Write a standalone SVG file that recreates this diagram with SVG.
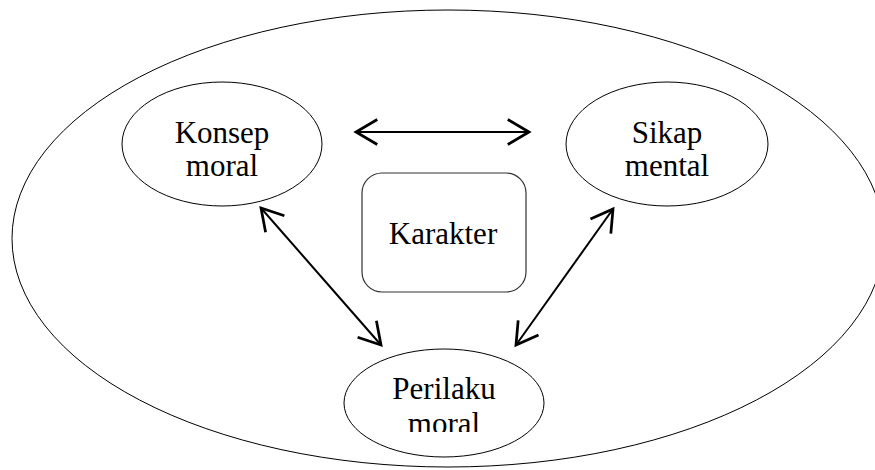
<svg xmlns="http://www.w3.org/2000/svg" width="875" height="470" viewBox="0 0 875 470">
<style>
.node{fill:#fff;stroke:#000;stroke-width:1}
.box{fill:#fff;stroke:#333;stroke-width:1.2}
.lbl{font-family:"Liberation Serif","Times New Roman",serif;font-size:31px;fill:#000;text-anchor:middle}
.conn{stroke:#000;stroke-width:2;fill:none;marker-start:url(#ah);marker-end:url(#ah)}
</style>
<defs>
<marker id="ah" markerUnits="userSpaceOnUse" markerWidth="30" markerHeight="30" viewBox="-20 -12 22 24" refX="0" refY="0" orient="auto-start-reverse" overflow="visible">
<path d="M-17,-10 L0,0 L-17,10" fill="none" stroke="#000" stroke-width="2.2" stroke-linejoin="miter"/>
</marker>
<clipPath id="pclip"><rect x="340" y="350" width="200" height="82"/></clipPath>
</defs>
<g id="outer"><ellipse cx="448" cy="238.5" rx="436" ry="228.5" fill="none" stroke="#000" stroke-width="1"/></g>
<g id="konsep-moral"><ellipse class="node" cx="222" cy="144" rx="100" ry="62"/><text class="lbl" x="222" y="143">Konsep</text><text class="lbl" x="222" y="176">moral</text></g>
<g id="sikap-mental"><ellipse class="node" cx="667" cy="144" rx="101" ry="62"/><text class="lbl" x="667" y="143">Sikap</text><text class="lbl" x="667" y="176">mental</text></g>
<g id="karakter"><rect class="box" x="362" y="173" width="164" height="119" rx="20" ry="20"/><text class="lbl" x="443" y="244">Karakter</text></g>
<g id="perilaku-moral"><ellipse class="node" cx="444" cy="403" rx="100" ry="54"/><text class="lbl" x="444" y="399">Perilaku</text><text class="lbl" x="444" y="434" clip-path="url(#pclip)">moral</text></g>
<g id="connectors">
<line class="conn" x1="356" y1="132" x2="529" y2="132"/>
<line class="conn" x1="261" y1="208" x2="381" y2="345"/>
<line class="conn" x1="613" y1="209" x2="516" y2="345"/>
</g>
</svg>
